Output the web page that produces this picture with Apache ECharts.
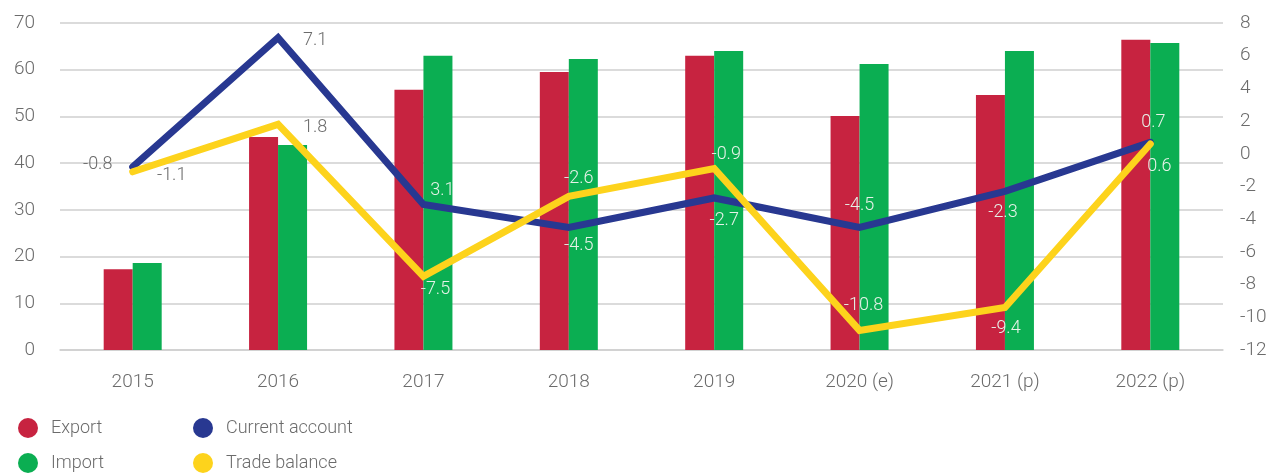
<!DOCTYPE html>
<html>
<head>
<meta charset="utf-8">
<script src="https://cdn.jsdelivr.net/npm/echarts@6/dist/echarts.min.js"></script>
<style>
  html, body { margin: 0; padding: 0; background: #fff; }
  #chart { width: 1276px; height: 473px; }
</style>
</head>
<body>
<div id="chart"></div>
<script>
// data
const years = ['2015', '2016', '2017', '2018', '2019', '2020 (e)', '2021 (p)', '2022 (p)'];
const exportVals = [17.3, 45.6, 55.7, 59.5, 63.0, 50.1, 54.6, 66.4];
const importVals = [18.6, 43.9, 63.0, 62.3, 64.0, 61.2, 64.0, 65.7];
const currentAccount = [-0.8, 7.1, -3.1, -4.5, -2.7, -4.5, -2.3, 0.7];
const tradeBalance = [-1.1, 1.8, -7.5, -2.6, -0.9, -10.8, -9.4, 0.6];
const leftTicks = [0, 70, 10];
const rightTicks = [-12, 8, 2];

// label placement (offset from the point) and text colour per point
const caOffsets = [[-35, -2], [37, 3], [19, -14], [10, 18], [10, 23], [0, -22], [-2, 21], [3, -20]];
const tbOffsets = [[39, 4], [37, 3], [12, 13], [10, -18], [12, -14], [4, -25], [1, 21], [9, 23]];
const grey = '#6b6b6b';
const light = '#e6f2e8';

const font = 'Roboto, "Liberation Sans", sans-serif';

function lineData(vals, offsets, texts) {
  return vals.map((v, i) => ({
    value: v,
    label: {
      show: true,
      position: 'inside',
      offset: offsets[i],
      color: i < 2 ? grey : light,
      formatter: texts && texts[i] != null ? texts[i] : '{c}'
    }
  }));
}

// one legend per entry so the 2x2 block can be placed exactly
function legendItem(name, left, top) {
  return {
    left: left, top: top,
    icon: 'circle', itemWidth: 20, itemHeight: 20,
    textStyle: { fontSize: 18, color: grey, fontFamily: font, fontWeight: 300, padding: [0, 0, 0, 8] },
    data: [name]
  };
}

const chart = echarts.init(document.getElementById('chart'));
const option = {
  animation: false,
  textStyle: { fontFamily: font },
  grid: { left: 60, right: 53, top: 23, bottom: 123 },
  legend: [
    legendItem('Export', 13, 413),
    legendItem('Import', 13, 448),
    legendItem('Current account', 188, 413),
    legendItem('Trade balance', 188, 448)
  ],
  xAxis: {
    type: 'category',
    data: years,
    axisLine: { lineStyle: { color: '#cfcfcf', width: 1.5 } },
    axisTick: { show: false },
    axisLabel: { color: grey, fontSize: 19, margin: 23, fontFamily: font, fontWeight: 300 }
  },
  yAxis: [
    {
      type: 'value',
      min: leftTicks[0], max: leftTicks[1], interval: leftTicks[2],
      axisLine: { show: false },
      axisTick: { show: false },
      splitLine: { lineStyle: { color: '#cfcfcf', width: 1.5 } },
      axisLabel: { color: grey, fontSize: 19, margin: 25, fontFamily: font, fontWeight: 300 }
    },
    {
      type: 'value',
      min: rightTicks[0], max: rightTicks[1], interval: rightTicks[2],
      axisLine: { show: false },
      axisTick: { show: false },
      splitLine: { show: false },
      axisLabel: { color: grey, fontSize: 19, margin: 17, align: 'left', fontFamily: font, fontWeight: 300 }
    }
  ],
  series: [
    {
      name: 'Export', type: 'bar', data: exportVals,
      barWidth: 29, barGap: '0%',
      itemStyle: { color: '#c72340' }
    },
    {
      name: 'Import', type: 'bar', data: importVals,
      barWidth: 29, barGap: '0%',
      itemStyle: { color: '#0bae52' }
    },
    {
      name: 'Current account', type: 'line', yAxisIndex: 1,
      data: lineData(currentAccount, caOffsets, [null, null, '3.1']),
      symbol: 'circle', symbolSize: 1,
      itemStyle: { color: '#283891' },
      lineStyle: { color: '#283891', width: 7, cap: 'round', join: 'miter' },
      label: { fontSize: 18, fontFamily: font, fontWeight: 300 },
      z: 3
    },
    {
      name: 'Trade balance', type: 'line', yAxisIndex: 1,
      data: lineData(tradeBalance, tbOffsets),
      symbol: 'circle', symbolSize: 1,
      itemStyle: { color: '#fdd31c' },
      lineStyle: { color: '#fdd31c', width: 7, cap: 'round', join: 'miter' },
      label: { fontSize: 18, fontFamily: font, fontWeight: 300 },
      z: 4
    }
  ]
};
chart.setOption(option);
</script>
</body>
</html>
